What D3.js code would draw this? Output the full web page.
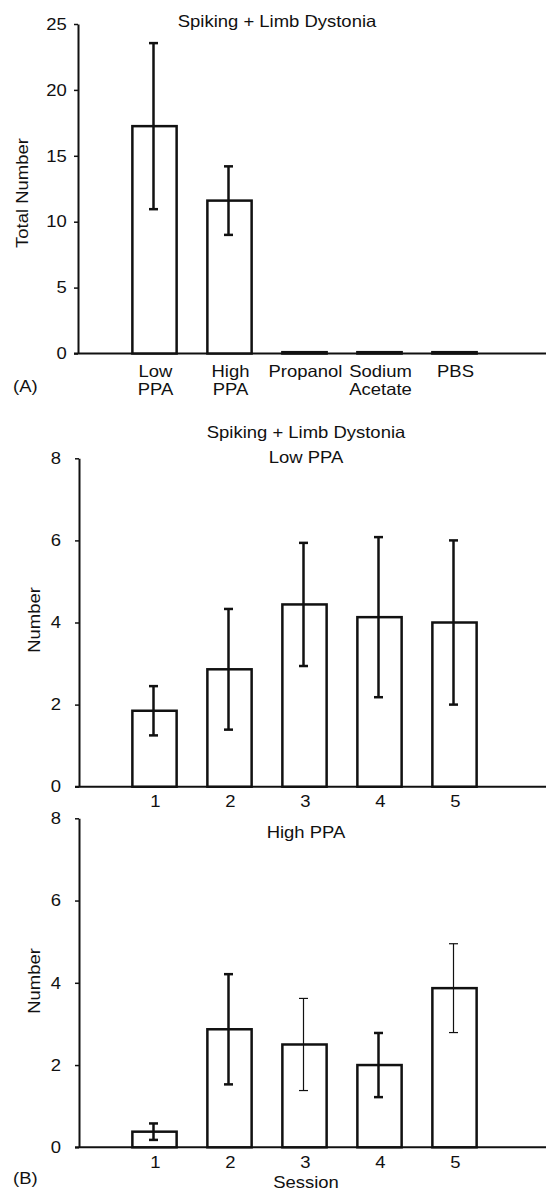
<!DOCTYPE html>
<html>
<head>
<meta charset="utf-8">
<script src="https://cdn.jsdelivr.net/npm/d3@7"></script>
<style>
  body { margin: 0; background: #fff; }
  text { font-family: "Liberation Sans", Arial, sans-serif; fill: #111; }
</style>
</head>
<body>
<div class="canvas"></div>
<script>
// data
const treatments = ['Low\nPPA', 'High\nPPA', 'Propanol', 'Sodium\nAcetate', 'PBS'];
const totalMeans = [17.25, 11.6, 0.1, 0.1, 0.1];
const totalErr = [6.3, 2.6, 0, 0, 0];

const sessions = ['1', '2', '3', '4', '5'];
const lowMeans = [1.85, 2.86, 4.44, 4.13, 4.0];
const lowErr = [0.6, 1.47, 1.5, 1.95, 2.0];
const highMeans = [0.38, 2.87, 2.5, 2.0, 3.87];
const highErr = [0.2, 1.34, 1.12, 0.78, 1.08];

const ticksA = [0, 5, 10, 15, 20, 25];
const ticksB = [0, 2, 4, 6, 8];

// svg container
const svg = d3.select('.canvas')
    .append('svg')
    .attr('width', 546)
    .attr('height', 1191);

svg.append('rect').attr('width', 546).attr('height', 1191).attr('fill', '#fff');

// the source figure's lettering is a little wide, so stretch text sideways
const fs = 16.5;
const sx = 1.12;

const label = (parent, x, y, txt, anchor = 'middle', rot = 0) =>
    parent.append('text')
        .attr('transform', `translate(${x}, ${y}) rotate(${rot}) scale(${sx}, 1)`)
        .attr('text-anchor', anchor)
        .attr('font-size', fs)
        .text(txt);

// draws one bar panel
const panel = (opt) => {

    const g = svg.append('g');

    const x = d3.scaleBand()
        .domain(opt.cats)
        .range([117, 492])
        .paddingInner(0.41)
        .paddingOuter(0.205);

    const y = d3.scaleLinear()
        .domain([0, opt.max])
        .range([opt.bottom, opt.top]);

    // y axis
    const yAxis = g.append('g')
        .attr('transform', `translate(${opt.left}, 0)`)
        .call(d3.axisLeft(y).tickValues(opt.ticks).tickSize(4).tickPadding(opt.pad).tickSizeOuter(0));
    yAxis.select('.domain').attr('stroke', '#111').attr('stroke-width', 2);
    yAxis.selectAll('.tick line').attr('stroke', '#111').attr('stroke-width', 1.5);
    yAxis.selectAll('.tick text')
        .attr('font-size', fs)
        .attr('font-family', '"Liberation Sans", Arial, sans-serif')
        .attr('fill', '#111')
        .attr('transform', `scale(${sx}, 1)`);

    // x axis line runs to the right edge
    g.append('line')
        .attr('x1', opt.left - 4).attr('x2', 546)
        .attr('y1', y(0)).attr('y2', y(0))
        .attr('stroke', '#111').attr('stroke-width', 2);

    const data = opt.cats.map((c, i) => ({ cat: c, v: opt.means[i], e: opt.err[i], thin: opt.thin ? opt.thin[i] : false }));

    // bars
    g.selectAll('rect.bar')
        .data(data)
        .enter()
        .append('rect')
            .attr('class', 'bar')
            .attr('x', d => x(d.cat))
            .attr('y', d => y(d.v))
            .attr('width', x.bandwidth())
            .attr('height', d => y(0) - y(d.v))
            .attr('fill', '#fff')
            .attr('stroke', '#111')
            .attr('stroke-width', 2.5);

    // error bars
    const eb = g.selectAll('g.err')
        .data(data.filter(d => d.e > 0))
        .enter()
        .append('g')
            .attr('class', 'err')
            .attr('stroke', '#111')
            .attr('stroke-width', d => d.thin ? 1.2 : 2.5);

    const cx = d => x(d.cat) + x.bandwidth() / 2 - 1;
    eb.append('line')
        .attr('x1', cx).attr('x2', cx)
        .attr('y1', d => y(d.v + d.e)).attr('y2', d => y(d.v - d.e));
    eb.append('line')
        .attr('x1', d => cx(d) - 4.5).attr('x2', d => cx(d) + 4.5)
        .attr('y1', d => y(d.v + d.e)).attr('y2', d => y(d.v + d.e));
    eb.append('line')
        .attr('x1', d => cx(d) - 4.5).attr('x2', d => cx(d) + 4.5)
        .attr('y1', d => y(d.v - d.e)).attr('y2', d => y(d.v - d.e));

    // category labels, split on newline
    opt.cats.forEach(c => {
        c.split('\n').forEach((s, i) => {
            label(g, x(c) + x.bandwidth() / 2 + 1, y(0) + opt.labelGap + i * 18, s);
        });
    });

    // y label
    label(g, opt.ylabX, opt.ylabY, opt.ylabel, 'middle', -90);

    // titles
    opt.titles.forEach(t => label(g, t.x, t.y, t.text));
};

panel({
    cats: treatments, means: totalMeans, err: totalErr,
    max: 25, ticks: ticksA, top: 24, bottom: 353.5, left: 78, pad: 6,
    labelGap: 23.5, ylabel: 'Total Number', ylabX: 28, ylabY: 193,
    titles: [{ text: 'Spiking + Limb Dystonia', x: 277, y: 27 }]
});

panel({
    cats: sessions, means: lowMeans, err: lowErr,
    max: 8, ticks: ticksB, top: 458.3, bottom: 786.7, left: 79, pad: 12,
    labelGap: 20.5, ylabel: 'Number', ylabX: 40, ylabY: 620,
    titles: [
        { text: 'Spiking + Limb Dystonia', x: 306, y: 438 },
        { text: 'Low PPA', x: 306, y: 463 }
    ]
});

panel({
    cats: sessions, means: highMeans, err: highErr, thin: [false, false, true, false, true],
    max: 8, ticks: ticksB, top: 818.3, bottom: 1147.3, left: 79, pad: 12,
    labelGap: 20.5, ylabel: 'Number', ylabX: 40, ylabY: 981,
    titles: [
        { text: 'High PPA', x: 306, y: 838 },
        { text: 'Session', x: 306, y: 1188 }
    ]
});

// panel letters
label(svg, 13, 392, '(A)', 'start');
label(svg, 13, 1184, '(B)', 'start');
</script>
</body>
</html>
